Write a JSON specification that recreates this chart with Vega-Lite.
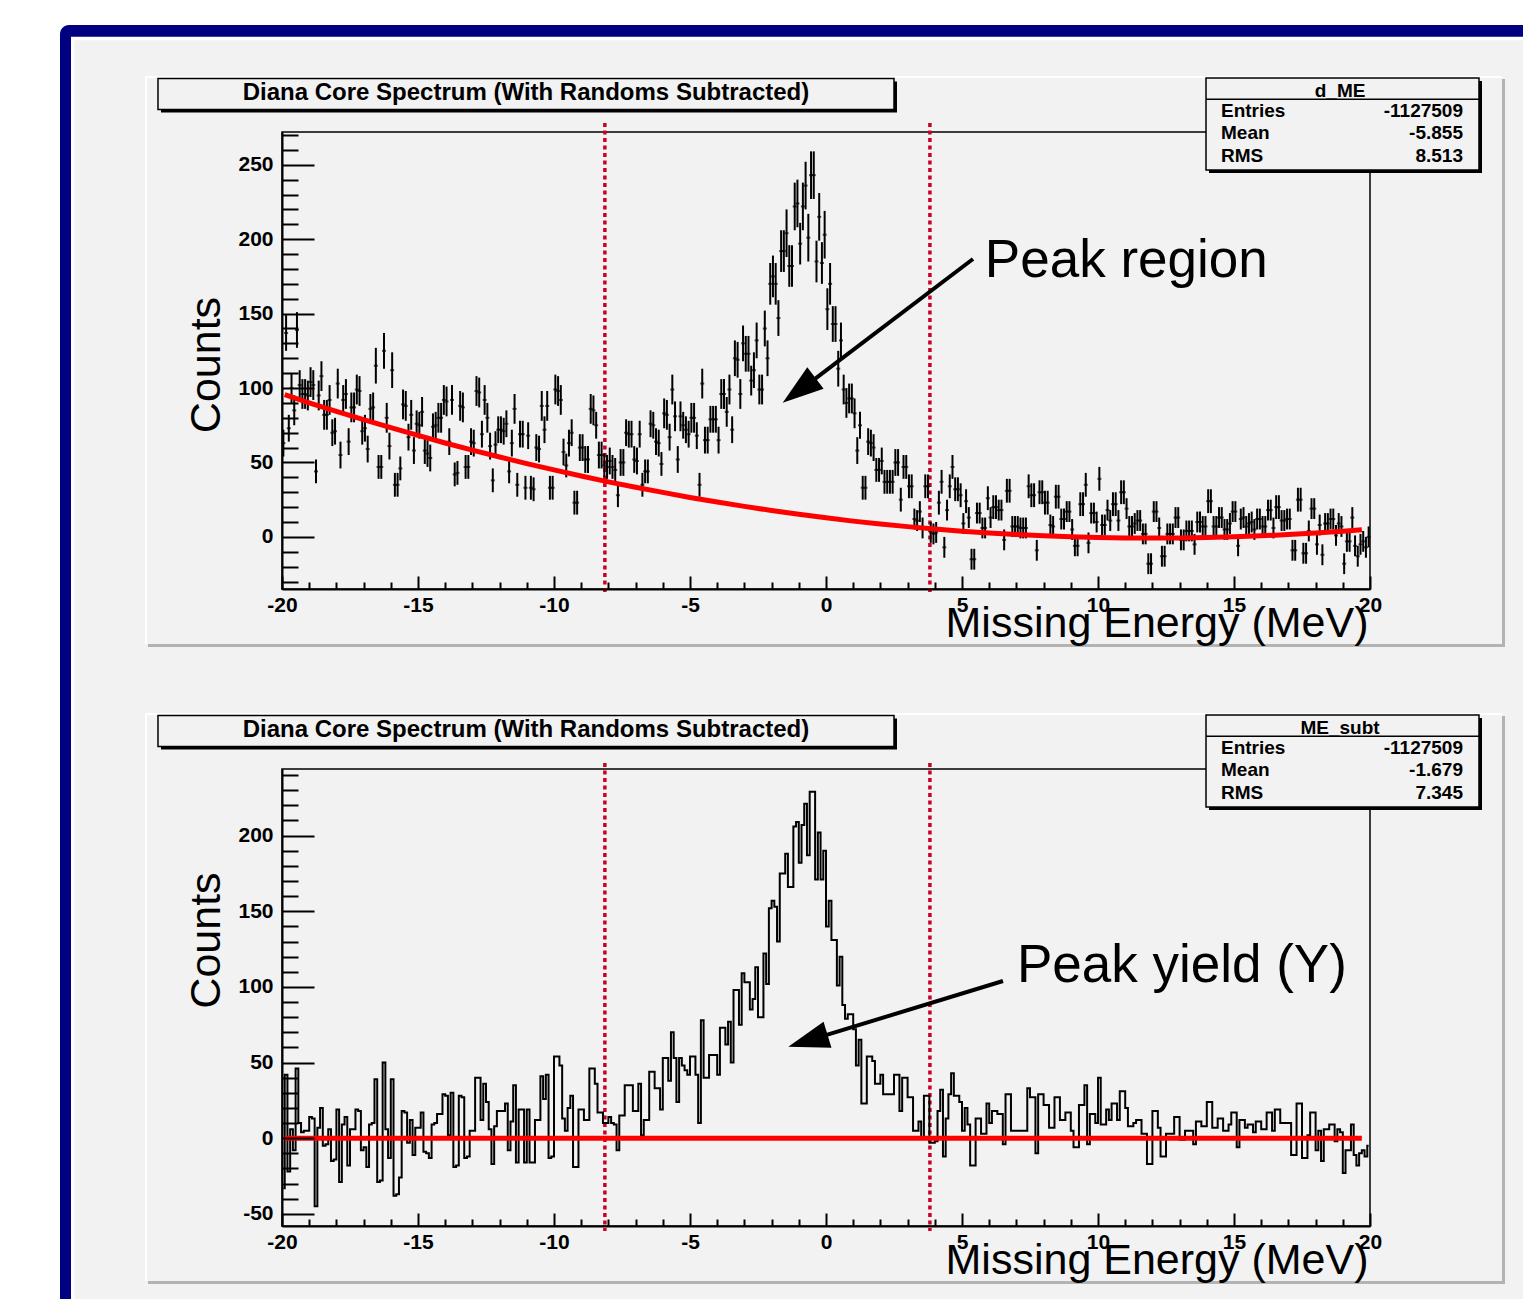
{
"$schema":"https://vega.github.io/schema/vega-lite/v6.json",
"padding":{"left":59,"top":24,"right":0,"bottom":0},
"background":"white",
"bounds":"flush",
"spacing":180,
"config":{"view":{"stroke":null},"font":"Liberation Sans",
"axis":{"domainColor":"black","domainWidth":2,"tickColor":"black","tickWidth":2,"labelFont":"Liberation Sans","labelFontWeight":"bold","labelFontSize":21,"labelColor":"black","titleFont":"Liberation Sans","titleFontWeight":"normal","titleFontSize":43,"titleColor":"black","grid":false,"labelFlush":false,"labelOverlap":false}},
"datasets":{
"h":[
{"x":-19.95,"c":63,"s":-33,"e":9},{"x":-19.85,"c":137,"s":42,"e":12},{"x":-19.75,"c":73,"s":-22,"e":9},{"x":-19.65,"c":100,"s":6,"e":10},{"x":-19.55,"c":85,"s":-8,"e":10},{"x":-19.45,"c":139,"s":46,"e":12},{"x":-19.35,"c":102,"s":10,"e":10},{"x":-19.25,"c":96,"s":4,"e":10},{"x":-19.15,"c":96,"s":5,"e":10},{"x":-19.05,"c":95,"s":5,"e":10},
{"x":-18.95,"c":104,"s":14,"e":10},{"x":-18.85,"c":102,"s":13,"e":10},{"x":-18.75,"c":44,"s":-45,"e":8},{"x":-18.65,"c":95,"s":7,"e":10},{"x":-18.55,"c":108,"s":20,"e":10},{"x":-18.45,"c":82,"s":-5,"e":10},{"x":-18.35,"c":82,"s":-4,"e":10},{"x":-18.25,"c":92,"s":6,"e":10},{"x":-18.15,"c":70,"s":-15,"e":9},{"x":-18.05,"c":71,"s":-14,"e":9},
{"x":-17.95,"c":103,"s":19,"e":10},{"x":-17.85,"c":55,"s":-29,"e":9},{"x":-17.75,"c":92,"s":9,"e":10},{"x":-17.65,"c":96,"s":14,"e":10},{"x":-17.55,"c":64,"s":-18,"e":9},{"x":-17.45,"c":87,"s":6,"e":10},{"x":-17.35,"c":87,"s":6,"e":10},{"x":-17.25,"c":99,"s":19,"e":10},{"x":-17.15,"c":98,"s":18,"e":10},{"x":-17.05,"c":71,"s":-8,"e":9},
{"x":-16.95,"c":73,"s":-6,"e":9},{"x":-16.85,"c":59,"s":-19,"e":9},{"x":-16.75,"c":86,"s":9,"e":10},{"x":-16.65,"c":87,"s":10,"e":10},{"x":-16.55,"c":115,"s":39,"e":12},{"x":-16.45,"c":47,"s":-29,"e":8},{"x":-16.35,"c":47,"s":-28,"e":8},{"x":-16.25,"c":125,"s":50,"e":12},{"x":-16.15,"c":80,"s":6,"e":10},{"x":-16.05,"c":61,"s":-13,"e":9},
{"x":-15.95,"c":112,"s":39,"e":12},{"x":-15.85,"c":35,"s":-38,"e":8},{"x":-15.75,"c":35,"s":-37,"e":8},{"x":-15.65,"c":46,"s":-26,"e":8},{"x":-15.55,"c":89,"s":18,"e":10},{"x":-15.45,"c":88,"s":17,"e":10},{"x":-15.35,"c":67,"s":-3,"e":9},{"x":-15.25,"c":82,"s":12,"e":10},{"x":-15.15,"c":58,"s":-11,"e":9},{"x":-15.05,"c":76,"s":7,"e":9},
{"x":-14.95,"c":75,"s":7,"e":9},{"x":-14.85,"c":84,"s":17,"e":10},{"x":-14.75,"c":58,"s":-9,"e":9},{"x":-14.65,"c":56,"s":-10,"e":9},{"x":-14.55,"c":53,"s":-13,"e":9},{"x":-14.45,"c":74,"s":9,"e":9},{"x":-14.35,"c":75,"s":10,"e":9},{"x":-14.25,"c":80,"s":16,"e":10},{"x":-14.15,"c":80,"s":16,"e":10},{"x":-14.05,"c":92,"s":29,"e":10},
{"x":-13.95,"c":91,"s":28,"e":10},{"x":-13.85,"c":64,"s":2,"e":9},{"x":-13.75,"c":92,"s":30,"e":10},{"x":-13.65,"c":42,"s":-19,"e":8},{"x":-13.55,"c":43,"s":-18,"e":8},{"x":-13.45,"c":88,"s":28,"e":10},{"x":-13.35,"c":87,"s":27,"e":10},{"x":-13.25,"c":47,"s":-13,"e":8},{"x":-13.15,"c":47,"s":-12,"e":8},{"x":-13.05,"c":64,"s":5,"e":9},
{"x":-12.95,"c":63,"s":5,"e":9},{"x":-12.85,"c":98,"s":40,"e":10},{"x":-12.75,"c":97,"s":40,"e":10},{"x":-12.65,"c":69,"s":12,"e":9},{"x":-12.55,"c":92,"s":36,"e":10},{"x":-12.45,"c":80,"s":24,"e":10},{"x":-12.35,"c":61,"s":6,"e":9},{"x":-12.25,"c":38,"s":-17,"e":8},{"x":-12.15,"c":62,"s":8,"e":9},{"x":-12.05,"c":72,"s":18,"e":9},
{"x":-11.95,"c":72,"s":18,"e":9},{"x":-11.85,"c":71,"s":18,"e":9},{"x":-11.75,"c":76,"s":23,"e":9},{"x":-11.65,"c":44,"s":-8,"e":8},{"x":-11.55,"c":63,"s":11,"e":9},{"x":-11.45,"c":86,"s":35,"e":10},{"x":-11.35,"c":35,"s":-16,"e":8},{"x":-11.25,"c":69,"s":19,"e":9},{"x":-11.15,"c":69,"s":19,"e":9},{"x":-11.05,"c":33,"s":-16,"e":8},
{"x":-10.95,"c":68,"s":19,"e":9},{"x":-10.85,"c":33,"s":-16,"e":8},{"x":-10.75,"c":32,"s":-16,"e":8},{"x":-10.65,"c":60,"s":12,"e":9},{"x":-10.55,"c":59,"s":12,"e":9},{"x":-10.45,"c":88,"s":41,"e":10},{"x":-10.35,"c":72,"s":26,"e":9},{"x":-10.25,"c":88,"s":42,"e":10},{"x":-10.15,"c":33,"s":-13,"e":8},{"x":-10.05,"c":33,"s":-12,"e":8},
{"x":-9.95,"c":99,"s":54,"e":10},{"x":-9.85,"c":98,"s":54,"e":10},{"x":-9.75,"c":92,"s":48,"e":10},{"x":-9.65,"c":57,"s":13,"e":9},{"x":-9.55,"c":48,"s":5,"e":8},{"x":-9.45,"c":63,"s":20,"e":9},{"x":-9.35,"c":70,"s":28,"e":9},{"x":-9.25,"c":23,"s":-19,"e":8},{"x":-9.15,"c":23,"s":-19,"e":8},{"x":-9.05,"c":60,"s":19,"e":9},
{"x":-8.95,"c":60,"s":19,"e":9},{"x":-8.85,"c":52,"s":12,"e":9},{"x":-8.75,"c":52,"s":12,"e":9},{"x":-8.65,"c":86,"s":46,"e":10},{"x":-8.55,"c":85,"s":46,"e":10},{"x":-8.45,"c":75,"s":36,"e":9},{"x":-8.35,"c":55,"s":17,"e":9},{"x":-8.25,"c":55,"s":17,"e":9},{"x":-8.15,"c":48,"s":10,"e":8},{"x":-8.05,"c":47,"s":10,"e":8},
{"x":-7.95,"c":51,"s":14,"e":9},{"x":-7.85,"c":47,"s":10,"e":8},{"x":-7.75,"c":45,"s":9,"e":8},{"x":-7.65,"c":28,"s":-8,"e":8},{"x":-7.55,"c":50,"s":15,"e":9},{"x":-7.45,"c":50,"s":15,"e":9},{"x":-7.35,"c":70,"s":35,"e":9},{"x":-7.25,"c":69,"s":35,"e":9},{"x":-7.15,"c":69,"s":35,"e":9},{"x":-7.05,"c":52,"s":18,"e":9},
{"x":-6.95,"c":51,"s":18,"e":9},{"x":-6.85,"c":69,"s":36,"e":9},{"x":-6.75,"c":35,"s":2,"e":8},{"x":-6.65,"c":44,"s":12,"e":8},{"x":-6.55,"c":44,"s":12,"e":8},{"x":-6.45,"c":76,"s":44,"e":9},{"x":-6.35,"c":75,"s":44,"e":9},{"x":-6.25,"c":64,"s":33,"e":9},{"x":-6.15,"c":63,"s":33,"e":9},{"x":-6.05,"c":49,"s":19,"e":8},
{"x":-5.95,"c":83,"s":53,"e":10},{"x":-5.85,"c":82,"s":53,"e":10},{"x":-5.75,"c":67,"s":38,"e":9},{"x":-5.65,"c":99,"s":70,"e":10},{"x":-5.55,"c":81,"s":53,"e":10},{"x":-5.45,"c":52,"s":24,"e":9},{"x":-5.35,"c":81,"s":53,"e":10},{"x":-5.25,"c":75,"s":48,"e":9},{"x":-5.15,"c":72,"s":45,"e":9},{"x":-5.05,"c":69,"s":42,"e":9},
{"x":-4.95,"c":80,"s":54,"e":10},{"x":-4.85,"c":80,"s":54,"e":10},{"x":-4.75,"c":68,"s":42,"e":9},{"x":-4.65,"c":35,"s":10,"e":8},{"x":-4.55,"c":103,"s":78,"e":10},{"x":-4.45,"c":65,"s":40,"e":9},{"x":-4.35,"c":65,"s":40,"e":9},{"x":-4.25,"c":79,"s":55,"e":9},{"x":-4.15,"c":79,"s":55,"e":9},{"x":-4.05,"c":79,"s":55,"e":9},
{"x":-3.95,"c":65,"s":42,"e":9},{"x":-3.85,"c":96,"s":73,"e":10},{"x":-3.75,"c":96,"s":73,"e":10},{"x":-3.65,"c":84,"s":62,"e":10},{"x":-3.55,"c":99,"s":77,"e":10},{"x":-3.45,"c":72,"s":50,"e":9},{"x":-3.35,"c":120,"s":98,"e":12},{"x":-3.25,"c":119,"s":98,"e":12},{"x":-3.15,"c":96,"s":75,"e":10},{"x":-3.05,"c":130,"s":109,"e":12},
{"x":-2.95,"c":123,"s":103,"e":12},{"x":-2.85,"c":123,"s":103,"e":12},{"x":-2.75,"c":105,"s":85,"e":10},{"x":-2.65,"c":112,"s":92,"e":12},{"x":-2.55,"c":132,"s":113,"e":12},{"x":-2.45,"c":99,"s":80,"e":10},{"x":-2.35,"c":99,"s":80,"e":10},{"x":-2.25,"c":140,"s":122,"e":12},{"x":-2.15,"c":120,"s":102,"e":12},{"x":-2.05,"c":170,"s":152,"e":14},
{"x":-1.95,"c":175,"s":157,"e":14},{"x":-1.85,"c":170,"s":153,"e":14},{"x":-1.75,"c":147,"s":130,"e":12},{"x":-1.65,"c":192,"s":175,"e":14},{"x":-1.55,"c":192,"s":175,"e":14},{"x":-1.45,"c":204,"s":188,"e":16},{"x":-1.35,"c":182,"s":166,"e":14},{"x":-1.25,"c":182,"s":166,"e":14},{"x":-1.15,"c":222,"s":206,"e":16},{"x":-1.05,"c":224,"s":209,"e":16},
{"x":-0.95,"c":197,"s":182,"e":14},{"x":-0.85,"c":222,"s":207,"e":16},{"x":-0.75,"c":236,"s":221,"e":16},{"x":-0.65,"c":201,"s":187,"e":16},{"x":-0.55,"c":243,"s":229,"e":16},{"x":-0.45,"c":243,"s":229,"e":16},{"x":-0.35,"c":185,"s":171,"e":14},{"x":-0.25,"c":215,"s":202,"e":16},{"x":-0.15,"c":184,"s":171,"e":14},{"x":-0.05,"c":203,"s":190,"e":16},
{"x":0.05,"c":153,"s":140,"e":14},{"x":0.15,"c":170,"s":157,"e":14},{"x":0.25,"c":143,"s":131,"e":12},{"x":0.35,"c":143,"s":131,"e":12},{"x":0.45,"c":113,"s":101,"e":12},{"x":0.55,"c":132,"s":120,"e":12},{"x":0.65,"c":99,"s":88,"e":10},{"x":0.75,"c":90,"s":79,"e":10},{"x":0.85,"c":93,"s":82,"e":10},{"x":0.95,"c":93,"s":82,"e":10},
{"x":1.05,"c":83,"s":72,"e":10},{"x":1.15,"c":58,"s":48,"e":9},{"x":1.25,"c":75,"s":65,"e":9},{"x":1.35,"c":33,"s":23,"e":8},{"x":1.45,"c":33,"s":23,"e":8},{"x":1.55,"c":64,"s":54,"e":9},{"x":1.65,"c":63,"s":54,"e":9},{"x":1.75,"c":60,"s":51,"e":9},{"x":1.85,"c":45,"s":36,"e":8},{"x":1.95,"c":45,"s":36,"e":8},
{"x":2.05,"c":51,"s":42,"e":9},{"x":2.15,"c":37,"s":29,"e":8},{"x":2.25,"c":37,"s":29,"e":8},{"x":2.35,"c":37,"s":29,"e":8},{"x":2.45,"c":37,"s":29,"e":8},{"x":2.55,"c":50,"s":42,"e":9},{"x":2.65,"c":50,"s":42,"e":9},{"x":2.75,"c":25,"s":18,"e":8},{"x":2.85,"c":47,"s":40,"e":8},{"x":2.95,"c":47,"s":40,"e":8},
{"x":3.05,"c":34,"s":27,"e":8},{"x":3.15,"c":34,"s":27,"e":8},{"x":3.25,"c":12,"s":5,"e":7},{"x":3.35,"c":11,"s":5,"e":7},{"x":3.45,"c":17,"s":11,"e":7},{"x":3.55,"c":6,"s":0,"e":7},{"x":3.65,"c":34,"s":28,"e":8},{"x":3.75,"c":34,"s":28,"e":8},{"x":3.85,"c":3,"s":-3,"e":7},{"x":3.95,"c":2,"s":-3,"e":7},
{"x":4.05,"c":3,"s":-2,"e":7},{"x":4.15,"c":23,"s":18,"e":8},{"x":4.25,"c":37,"s":32,"e":8},{"x":4.35,"c":-7,"s":-12,"e":7},{"x":4.45,"c":18,"s":13,"e":7},{"x":4.55,"c":34,"s":29,"e":8},{"x":4.65,"c":47,"s":43,"e":8},{"x":4.75,"c":32,"s":28,"e":8},{"x":4.85,"c":32,"s":28,"e":8},{"x":4.95,"c":28,"s":24,"e":8},
{"x":5.05,"c":9,"s":5,"e":7},{"x":5.15,"c":24,"s":20,"e":8},{"x":5.25,"c":13,"s":9,"e":7},{"x":5.35,"c":-15,"s":-18,"e":7},{"x":5.45,"c":-15,"s":-18,"e":7},{"x":5.55,"c":16,"s":13,"e":7},{"x":5.65,"c":16,"s":13,"e":7},{"x":5.75,"c":6,"s":3,"e":7},{"x":5.85,"c":6,"s":3,"e":7},{"x":5.95,"c":26,"s":23,"e":8},
{"x":6.05,"c":13,"s":10,"e":7},{"x":6.15,"c":20,"s":18,"e":8},{"x":6.25,"c":20,"s":18,"e":8},{"x":6.35,"c":18,"s":16,"e":7},{"x":6.45,"c":18,"s":16,"e":7},{"x":6.55,"c":-2,"s":-4,"e":7},{"x":6.65,"c":31,"s":29,"e":8},{"x":6.75,"c":31,"s":29,"e":8},{"x":6.85,"c":7,"s":5,"e":7},{"x":6.95,"c":7,"s":5,"e":7},
{"x":7.05,"c":7,"s":5,"e":7},{"x":7.15,"c":6,"s":5,"e":7},{"x":7.25,"c":6,"s":5,"e":7},{"x":7.35,"c":6,"s":5,"e":7},{"x":7.45,"c":34,"s":33,"e":8},{"x":7.55,"c":28,"s":27,"e":8},{"x":7.65,"c":28,"s":27,"e":8},{"x":7.75,"c":-9,"s":-10,"e":7},{"x":7.85,"c":30,"s":29,"e":8},{"x":7.95,"c":30,"s":29,"e":8},
{"x":8.05,"c":23,"s":22,"e":8},{"x":8.15,"c":23,"s":22,"e":8},{"x":8.25,"c":8,"s":7,"e":7},{"x":8.35,"c":7,"s":7,"e":7},{"x":8.45,"c":27,"s":27,"e":8},{"x":8.55,"c":27,"s":27,"e":8},{"x":8.65,"c":12,"s":12,"e":7},{"x":8.75,"c":12,"s":12,"e":7},{"x":8.85,"c":17,"s":17,"e":7},{"x":8.95,"c":17,"s":17,"e":7},
{"x":9.05,"c":5,"s":5,"e":7},{"x":9.15,"c":-6,"s":-6,"e":7},{"x":9.25,"c":-6,"s":-6,"e":7},{"x":9.35,"c":22,"s":22,"e":8},{"x":9.45,"c":22,"s":22,"e":8},{"x":9.55,"c":35,"s":35,"e":8},{"x":9.65,"c":-4,"s":-4,"e":7},{"x":9.75,"c":16,"s":16,"e":7},{"x":9.85,"c":16,"s":16,"e":7},{"x":9.95,"c":10,"s":10,"e":7},
{"x":10.05,"c":39,"s":40,"e":8},{"x":10.15,"c":8,"s":9,"e":7},{"x":10.25,"c":8,"s":9,"e":7},{"x":10.35,"c":18,"s":19,"e":7},{"x":10.45,"c":11,"s":12,"e":7},{"x":10.55,"c":22,"s":23,"e":8},{"x":10.65,"c":22,"s":23,"e":8},{"x":10.75,"c":11,"s":12,"e":7},{"x":10.85,"c":30,"s":31,"e":8},{"x":10.95,"c":30,"s":31,"e":8},
{"x":11.05,"c":19,"s":20,"e":7},{"x":11.15,"c":7,"s":8,"e":7},{"x":11.25,"c":7,"s":8,"e":7},{"x":11.35,"c":9,"s":10,"e":7},{"x":11.45,"c":11,"s":12,"e":7},{"x":11.55,"c":11,"s":12,"e":7},{"x":11.65,"c":2,"s":3,"e":7},{"x":11.75,"c":2,"s":3,"e":7},{"x":11.85,"c":-18,"s":-17,"e":7},{"x":11.95,"c":-18,"s":-17,"e":7},
{"x":12.05,"c":17,"s":18,"e":7},{"x":12.15,"c":17,"s":18,"e":7},{"x":12.25,"c":6,"s":7,"e":7},{"x":12.35,"c":-13,"s":-12,"e":7},{"x":12.45,"c":-13,"s":-12,"e":7},{"x":12.55,"c":2,"s":3,"e":7},{"x":12.65,"c":2,"s":3,"e":7},{"x":12.75,"c":2,"s":3,"e":7},{"x":12.85,"c":13,"s":14,"e":7},{"x":12.95,"c":13,"s":14,"e":7},
{"x":13.05,"c":-2,"s":-1,"e":7},{"x":13.15,"c":-2,"s":-1,"e":7},{"x":13.25,"c":4,"s":5,"e":7},{"x":13.35,"c":4,"s":5,"e":7},{"x":13.45,"c":4,"s":5,"e":7},{"x":13.55,"c":-5,"s":-4,"e":7},{"x":13.65,"c":10,"s":11,"e":7},{"x":13.75,"c":10,"s":11,"e":7},{"x":13.85,"c":7,"s":8,"e":7},{"x":13.95,"c":7,"s":8,"e":7},
{"x":14.05,"c":24,"s":24,"e":8},{"x":14.15,"c":24,"s":24,"e":8},{"x":14.25,"c":7,"s":7,"e":7},{"x":14.35,"c":7,"s":7,"e":7},{"x":14.45,"c":13,"s":13,"e":7},{"x":14.55,"c":13,"s":13,"e":7},{"x":14.65,"c":5,"s":5,"e":7},{"x":14.75,"c":5,"s":5,"e":7},{"x":14.85,"c":9,"s":9,"e":7},{"x":14.95,"c":17,"s":17,"e":7},
{"x":15.05,"c":17,"s":17,"e":7},{"x":15.15,"c":-6,"s":-6,"e":7},{"x":15.25,"c":12,"s":12,"e":7},{"x":15.35,"c":13,"s":12,"e":7},{"x":15.45,"c":7,"s":7,"e":7},{"x":15.55,"c":9,"s":9,"e":7},{"x":15.65,"c":10,"s":9,"e":7},{"x":15.75,"c":5,"s":4,"e":7},{"x":15.85,"c":12,"s":11,"e":7},{"x":15.95,"c":12,"s":11,"e":7},
{"x":16.05,"c":7,"s":6,"e":7},{"x":16.15,"c":7,"s":6,"e":7},{"x":16.25,"c":18,"s":17,"e":7},{"x":16.35,"c":18,"s":17,"e":7},{"x":16.45,"c":6,"s":5,"e":7},{"x":16.55,"c":20,"s":19,"e":8},{"x":16.65,"c":20,"s":19,"e":8},{"x":16.75,"c":11,"s":10,"e":7},{"x":16.85,"c":11,"s":10,"e":7},{"x":16.95,"c":12,"s":10,"e":7},
{"x":17.05,"c":12,"s":10,"e":7},{"x":17.15,"c":-9,"s":-11,"e":7},{"x":17.25,"c":-9,"s":-11,"e":7},{"x":17.35,"c":25,"s":23,"e":8},{"x":17.45,"c":25,"s":23,"e":8},{"x":17.55,"c":-11,"s":-13,"e":7},{"x":17.65,"c":-11,"s":-13,"e":7},{"x":17.75,"c":4,"s":2,"e":7},{"x":17.85,"c":19,"s":17,"e":7},{"x":17.95,"c":19,"s":17,"e":7},
{"x":18.05,"c":-5,"s":-8,"e":7},{"x":18.15,"c":8,"s":5,"e":7},{"x":18.25,"c":-12,"s":-15,"e":7},{"x":18.35,"c":9,"s":6,"e":7},{"x":18.45,"c":9,"s":6,"e":7},{"x":18.55,"c":12,"s":9,"e":7},{"x":18.65,"c":12,"s":9,"e":7},{"x":18.75,"c":1,"s":-2,"e":7},{"x":18.85,"c":9,"s":6,"e":7},{"x":18.95,"c":7,"s":4,"e":7},
{"x":19.05,"c":-18,"s":-23,"e":7},{"x":19.15,"c":-3,"s":-8,"e":7},{"x":19.25,"c":-3,"s":-8,"e":7},{"x":19.35,"c":13,"s":9,"e":7},{"x":19.45,"c":-6,"s":-11,"e":7},{"x":19.55,"c":-13,"s":-18,"e":7},{"x":19.65,"c":-5,"s":-10,"e":7},{"x":19.75,"c":-3,"s":-8,"e":7},{"x":19.85,"c":-7,"s":-12,"e":7},{"x":19.95,"c":0,"s":-5,"e":7}
],
"fit":[
{"x":-19.9,"f":95.5},{"x":-19,"f":90.1},{"x":-18,"f":84.3},{"x":-17,"f":78.8},{"x":-16,"f":73.4},{"x":-15,"f":68.2},{"x":-14,"f":63.1},{"x":-13,"f":58.3},{"x":-12,"f":53.7},{"x":-11,"f":49.2},{"x":-10,"f":45.0},{"x":-9,"f":40.9},{"x":-8,"f":37.0},{"x":-7,"f":33.4},{"x":-6,"f":29.9},{"x":-5,"f":26.5},{"x":-4,"f":23.4},{"x":-3,"f":20.5},{"x":-2,"f":17.7},{"x":-1,"f":15.2},{"x":0,"f":12.8},{"x":1,"f":10.6},{"x":2,"f":8.7},{"x":3,"f":6.9},{"x":4,"f":5.3},{"x":5,"f":3.8},{"x":6,"f":2.6},{"x":7,"f":1.6},{"x":8,"f":0.7},{"x":9,"f":0.1},{"x":10,"f":-0.4},{"x":11,"f":-0.7},{"x":12,"f":-0.8},{"x":13,"f":-0.7},{"x":14,"f":-0.4},{"x":15,"f":0.1},{"x":16,"f":0.7},{"x":17,"f":1.6},{"x":18,"f":2.6},{"x":19,"f":3.8},{"x":19.7,"f":4.8}
]
},
"vconcat":[
{
"width":1088,"height":457,
"resolve":{"axis":{"x":"independent","y":"independent"}},
"layer":[
{"data":{"values":[{}]},"mark":{"type":"rect","fill":"#000080","cornerRadiusTopLeft":9},"encoding":{"x":{"datum":-28.162,"type":"quantitative","axis":null},"x2":{"datum":25.66},"y":{"datum":343.88,"type":"quantitative","axis":null},"y2":{"datum":-512.6}}},
{"data":{"values":[{}]},"mark":{"type":"rect","fill":"white"},"encoding":{"x":{"datum":-27.757,"type":"quantitative","axis":null},"x2":{"datum":25.66},"y":{"datum":336.02,"type":"quantitative","axis":null},"y2":{"datum":-512.6}}},
{"data":{"values":[{}]},"mark":{"type":"rect","fill":"#f2f2f2"},"encoding":{"x":{"datum":-27.636,"type":"quantitative","axis":null},"x2":{"datum":25.66},"y":{"datum":333.6,"type":"quantitative","axis":null},"y2":{"datum":-512.6}}},
{"data":{"values":[{}]},"mark":{"type":"rect","fill":"white"},"encoding":{"x":{"datum":-25.037,"type":"quantitative","axis":null},"x2":{"datum":-24.963},"y":{"datum":309.62,"type":"quantitative","axis":null},"y2":{"datum":-71.94}}},
{"data":{"values":[{}]},"mark":{"type":"rect","fill":"white"},"encoding":{"x":{"datum":-25.037,"type":"quantitative","axis":null},"x2":{"datum":24.853},"y":{"datum":309.62,"type":"quantitative","axis":null},"y2":{"datum":308.28}}},
{"data":{"values":[{}]},"mark":{"type":"rect","fill":"#b3b3b3"},"encoding":{"x":{"datum":24.853,"type":"quantitative","axis":null},"x2":{"datum":24.963},"y":{"datum":307.6,"type":"quantitative","axis":null},"y2":{"datum":-73.96}}},
{"data":{"values":[{}]},"mark":{"type":"rect","fill":"#b3b3b3"},"encoding":{"x":{"datum":-24.926,"type":"quantitative","axis":null},"x2":{"datum":24.963},"y":{"datum":-71.94,"type":"quantitative","axis":null},"y2":{"datum":-73.96}}},
{"data":{"values":[{}]},"mark":{"type":"rect","fill":"none","stroke":"black","strokeWidth":1.5},"encoding":{"x":{"datum":-20,"type":"quantitative","axis":null},"x2":{"datum":20},"y":{"datum":-35,"type":"quantitative","axis":null},"y2":{"datum":272}}},
{"data":{"values":[{}]},"mark":{"type":"rule","color":"#cc0022","strokeWidth":3.5,"strokeDash":[4,3.5]},"encoding":{"x":{"datum":-8.13,"type":"quantitative","axis":null},"y":{"datum":278,"type":"quantitative","axis":null},"y2":{"datum":-38.4}}},
{"data":{"values":[{}]},"mark":{"type":"rule","color":"#cc0022","strokeWidth":3.5,"strokeDash":[4,3.5]},"encoding":{"x":{"datum":3.82,"type":"quantitative","axis":null},"y":{"datum":278,"type":"quantitative","axis":null},"y2":{"datum":-38.4}}},
{"data":{"name":"h"},"mark":{"type":"errorbar","ticks":false,"color":"black","thickness":2},"encoding":{"x":{"field":"x","type":"quantitative","axis":null},"y":{"field":"c","type":"quantitative","axis":null},"yError":{"field":"e"}}},
{"data":{"name":"h"},"mark":{"type":"tick","orient":"horizontal","size":4,"thickness":2,"color":"black"},"encoding":{
 "x":{"field":"x","type":"quantitative","scale":{"domain":[-20,20],"nice":false,"zero":false},
  "axis":{"orient":"bottom","zindex":2,"values":[-20,-15,-10,-5,0,5,10,15,20],"labelExpr":"'' + datum.value","tickSize":-13,"labelPadding":18,"title":"Missing Energy (MeV)","titleX":1086,"titleY":47.5,"titleAlign":"right","titleBaseline":"alphabetic","titleAngle":0}},
 "y":{"field":"c","type":"quantitative","scale":{"domain":[-35,272],"nice":false,"zero":false},
  "axis":{"orient":"left","zindex":2,"values":[0,50,100,150,200,250],"labelExpr":"'' + datum.value","tickSize":-32,"labelPadding":41,"title":"Counts","titleX":-63,"titleY":232.5,"titleAlign":"center","titleBaseline":"alphabetic","titleAngle":-90}}}},
{"data":{"name":"fit"},"mark":{"type":"line","color":"#ff0000","strokeWidth":5},"encoding":{
 "x":{"field":"x","type":"quantitative","axis":{"orient":"bottom","zindex":2,"values":[-19,-18,-17,-16,-14,-13,-12,-11,-9,-8,-7,-6,-4,-3,-2,-1,1,2,3,4,6,7,8,9,11,12,13,14,16,17,18,19],"tickSize":-7,"labels":false,"domain":false,"title":null}},
 "y":{"field":"f","type":"quantitative","axis":{"orient":"left","zindex":2,"values":[-30,-20,-10,10,20,30,40,60,70,80,90,110,120,130,140,160,170,180,190,210,220,230,240,260,270],"tickSize":-16,"labels":false,"domain":false,"title":null}}}},
{"data":{"values":[{}]},"mark":{"type":"rect","fill":"black"},"encoding":{"x":{"datum":-24.449,"type":"quantitative","axis":null},"x2":{"datum":2.61},"y":{"datum":305.92,"type":"quantitative","axis":null},"y2":{"datum":285.1}}},
{"data":{"values":[{}]},"mark":{"type":"rect","fill":"#f2f2f2","stroke":"black","strokeWidth":1.5},"encoding":{"x":{"datum":-24.559,"type":"quantitative","axis":null},"x2":{"datum":2.5},"y":{"datum":307.94,"type":"quantitative","axis":null},"y2":{"datum":287.11}}},
{"data":{"values":[{}]},"mark":{"type":"text","text":"Diana Core Spectrum (With Randoms Subtracted)","fontSize":24,"fontWeight":"bold","align":"center","baseline":"alphabetic","color":"black"},"encoding":{"x":{"datum":-11.03,"type":"quantitative","axis":null},"y":{"datum":293.7,"type":"quantitative","axis":null}}},
{"data":{"values":[{}]},"mark":{"type":"rect","fill":"black"},"encoding":{"x":{"datum":14.081,"type":"quantitative","axis":null},"x2":{"datum":24.118},"y":{"datum":306.26,"type":"quantitative","axis":null},"y2":{"datum":244.46}}},
{"data":{"values":[{}]},"mark":{"type":"rect","fill":"#f2f2f2","stroke":"black","strokeWidth":1.5},"encoding":{"x":{"datum":13.971,"type":"quantitative","axis":null},"x2":{"datum":24.007},"y":{"datum":308.28,"type":"quantitative","axis":null},"y2":{"datum":246.47}}},
{"data":{"values":[{}]},"mark":{"type":"rule","color":"black","strokeWidth":1.5},"encoding":{"x":{"datum":13.971,"type":"quantitative","axis":null},"x2":{"datum":24.007},"y":{"datum":293.97,"type":"quantitative","axis":null}}},
{"data":{"values":[{}]},"mark":{"type":"text","text":"d_ME","fontSize":19,"fontWeight":"bold","align":"center","baseline":"alphabetic","color":"black"},"encoding":{"x":{"datum":18.9,"type":"quantitative","axis":null},"y":{"datum":295.71,"type":"quantitative","axis":null}}},
{"data":{"values":[{}]},"mark":{"type":"text","text":["Entries","Mean","RMS"],"lineHeight":22.7,"fontSize":19,"fontWeight":"bold","align":"left","baseline":"alphabetic","color":"black"},"encoding":{"x":{"datum":14.522,"type":"quantitative","axis":null},"y":{"datum":282.28,"type":"quantitative","axis":null}}},
{"data":{"values":[{}]},"mark":{"type":"text","text":["-1127509","-5.855","8.513"],"lineHeight":22.7,"fontSize":19,"fontWeight":"bold","align":"right","baseline":"alphabetic","color":"black"},"encoding":{"x":{"datum":23.419,"type":"quantitative","axis":null},"y":{"datum":282.28,"type":"quantitative","axis":null}}},
{"data":{"values":[{}]},"mark":{"type":"text","text":"Peak region","fontSize":53,"align":"left","baseline":"alphabetic","color":"black"},"encoding":{"x":{"datum":5.84,"type":"quantitative","axis":null},"y":{"datum":174.6,"type":"quantitative","axis":null}}},
{"data":{"values":[{}]},"mark":{"type":"rule","color":"black","strokeWidth":4},"encoding":{"x":{"datum":5.404,"type":"quantitative","axis":null},"x2":{"datum":-0.551},"y":{"datum":186.7,"type":"quantitative","axis":null},"y2":{"datum":104.1}}},
{"data":{"values":[{}]},"mark":{"type":"point","shape":"M0,0L-0.66,2L0.66,2Z","size":1681,"angle":233,"filled":true,"color":"black","opacity":1,"strokeWidth":0},"encoding":{"x":{"datum":-1.592,"type":"quantitative","axis":null},"y":{"datum":90.2,"type":"quantitative","axis":null}}}
]
},
{
"width":1088,"height":457,
"resolve":{"axis":{"x":"independent","y":"independent"}},
"layer":[
{"data":{"values":[{}]},"mark":{"type":"rect","fill":"white"},"encoding":{"x":{"datum":-25.037,"type":"quantitative","axis":null},"x2":{"datum":-24.963},"y":{"datum":281.01,"type":"quantitative","axis":null},"y2":{"datum":-94.36}}},
{"data":{"values":[{}]},"mark":{"type":"rect","fill":"white"},"encoding":{"x":{"datum":-25.037,"type":"quantitative","axis":null},"x2":{"datum":24.853},"y":{"datum":281.01,"type":"quantitative","axis":null},"y2":{"datum":279.69}}},
{"data":{"values":[{}]},"mark":{"type":"rect","fill":"#b3b3b3"},"encoding":{"x":{"datum":24.853,"type":"quantitative","axis":null},"x2":{"datum":24.963},"y":{"datum":279.02,"type":"quantitative","axis":null},"y2":{"datum":-96.34}}},
{"data":{"values":[{}]},"mark":{"type":"rect","fill":"#b3b3b3"},"encoding":{"x":{"datum":-24.926,"type":"quantitative","axis":null},"x2":{"datum":24.963},"y":{"datum":-94.36,"type":"quantitative","axis":null},"y2":{"datum":-96.34}}},
{"data":{"values":[{}]},"mark":{"type":"rect","fill":"none","stroke":"black","strokeWidth":1.5},"encoding":{"x":{"datum":-20,"type":"quantitative","axis":null},"x2":{"datum":20},"y":{"datum":-58,"type":"quantitative","axis":null},"y2":{"datum":244}}},
{"data":{"values":[{}]},"mark":{"type":"rule","color":"#cc0022","strokeWidth":3.5,"strokeDash":[4,3.5]},"encoding":{"x":{"datum":-8.13,"type":"quantitative","axis":null},"y":{"datum":248,"type":"quantitative","axis":null},"y2":{"datum":-61.3}}},
{"data":{"values":[{}]},"mark":{"type":"rule","color":"#cc0022","strokeWidth":3.5,"strokeDash":[4,3.5]},"encoding":{"x":{"datum":3.82,"type":"quantitative","axis":null},"y":{"datum":248,"type":"quantitative","axis":null},"y2":{"datum":-61.3}}},
{"data":{"name":"h"},"mark":{"type":"line","interpolate":"step","color":"black","strokeWidth":2},"encoding":{
 "x":{"field":"x","type":"quantitative","scale":{"domain":[-20,20],"nice":false,"zero":false},
  "axis":{"orient":"bottom","zindex":2,"values":[-20,-15,-10,-5,0,5,10,15,20],"labelExpr":"'' + datum.value","tickSize":-13,"labelPadding":18,"title":"Missing Energy (MeV)","titleX":1086,"titleY":47.5,"titleAlign":"right","titleBaseline":"alphabetic","titleAngle":0}},
 "y":{"field":"s","type":"quantitative","scale":{"domain":[-58,244],"nice":false,"zero":false},
  "axis":{"orient":"left","zindex":2,"values":[-50,0,50,100,150,200],"labelExpr":"'' + datum.value","tickSize":-32,"labelPadding":41,"title":"Counts","titleX":-63,"titleY":171,"titleAlign":"center","titleBaseline":"alphabetic","titleAngle":-90}}}},
{"data":{"name":"h"},"mark":{"type":"point","opacity":0},"encoding":{
 "x":{"field":"x","type":"quantitative","axis":{"orient":"bottom","zindex":2,"values":[-19,-18,-17,-16,-14,-13,-12,-11,-9,-8,-7,-6,-4,-3,-2,-1,1,2,3,4,6,7,8,9,11,12,13,14,16,17,18,19],"tickSize":-7,"labels":false,"domain":false,"title":null}},
 "y":{"field":"s","type":"quantitative","axis":{"orient":"left","zindex":2,"values":[-40,-30,-20,-10,10,20,30,40,60,70,80,90,110,120,130,140,160,170,180,190,210,220,230,240],"tickSize":-16,"labels":false,"domain":false,"title":null}}}},
{"data":{"values":[{}]},"mark":{"type":"rule","color":"#ff0000","strokeWidth":5},"encoding":{"x":{"datum":-19.9,"type":"quantitative","axis":null},"x2":{"datum":19.7},"y":{"datum":0,"type":"quantitative","axis":null}}},
{"data":{"values":[{}]},"mark":{"type":"rect","fill":"black"},"encoding":{"x":{"datum":-24.449,"type":"quantitative","axis":null},"x2":{"datum":2.61},"y":{"datum":277.37,"type":"quantitative","axis":null},"y2":{"datum":256.89}}},
{"data":{"values":[{}]},"mark":{"type":"rect","fill":"#f2f2f2","stroke":"black","strokeWidth":1.5},"encoding":{"x":{"datum":-24.559,"type":"quantitative","axis":null},"x2":{"datum":2.5},"y":{"datum":279.36,"type":"quantitative","axis":null},"y2":{"datum":258.87}}},
{"data":{"values":[{}]},"mark":{"type":"text","text":"Diana Core Spectrum (With Randoms Subtracted)","fontSize":24,"fontWeight":"bold","align":"center","baseline":"alphabetic","color":"black"},"encoding":{"x":{"datum":-11.03,"type":"quantitative","axis":null},"y":{"datum":265.35,"type":"quantitative","axis":null}}},
{"data":{"values":[{}]},"mark":{"type":"rect","fill":"black"},"encoding":{"x":{"datum":14.081,"type":"quantitative","axis":null},"x2":{"datum":24.118},"y":{"datum":277.7,"type":"quantitative","axis":null},"y2":{"datum":216.91}}},
{"data":{"values":[{}]},"mark":{"type":"rect","fill":"#f2f2f2","stroke":"black","strokeWidth":1.5},"encoding":{"x":{"datum":13.971,"type":"quantitative","axis":null},"x2":{"datum":24.007},"y":{"datum":279.69,"type":"quantitative","axis":null},"y2":{"datum":218.89}}},
{"data":{"values":[{}]},"mark":{"type":"rule","color":"black","strokeWidth":1.5},"encoding":{"x":{"datum":13.971,"type":"quantitative","axis":null},"x2":{"datum":24.007},"y":{"datum":265.61,"type":"quantitative","axis":null}}},
{"data":{"values":[{}]},"mark":{"type":"text","text":"ME_subt","fontSize":19,"fontWeight":"bold","align":"center","baseline":"alphabetic","color":"black"},"encoding":{"x":{"datum":18.9,"type":"quantitative","axis":null},"y":{"datum":267.33,"type":"quantitative","axis":null}}},
{"data":{"values":[{}]},"mark":{"type":"text","text":["Entries","Mean","RMS"],"lineHeight":22.7,"fontSize":19,"fontWeight":"bold","align":"left","baseline":"alphabetic","color":"black"},"encoding":{"x":{"datum":14.522,"type":"quantitative","axis":null},"y":{"datum":254.11,"type":"quantitative","axis":null}}},
{"data":{"values":[{}]},"mark":{"type":"text","text":["-1127509","-1.679","7.345"],"lineHeight":22.7,"fontSize":19,"fontWeight":"bold","align":"right","baseline":"alphabetic","color":"black"},"encoding":{"x":{"datum":23.419,"type":"quantitative","axis":null},"y":{"datum":254.11,"type":"quantitative","axis":null}}},
{"data":{"values":[{}]},"mark":{"type":"text","text":"Peak yield (Y)","fontSize":53,"align":"left","baseline":"alphabetic","color":"black"},"encoding":{"x":{"datum":7.02,"type":"quantitative","axis":null},"y":{"datum":103.2,"type":"quantitative","axis":null}}},
{"data":{"values":[{}]},"mark":{"type":"rule","color":"black","strokeWidth":4},"encoding":{"x":{"datum":6.507,"type":"quantitative","axis":null},"x2":{"datum":-0.184},"y":{"datum":103.9,"type":"quantitative","axis":null},"y2":{"datum":67.16}}},
{"data":{"values":[{}]},"mark":{"type":"point","shape":"M0,0L-0.66,2L0.66,2Z","size":1681,"angle":253,"filled":true,"color":"black","opacity":1,"strokeWidth":0},"encoding":{"x":{"datum":-1.386,"type":"quantitative","axis":null},"y":{"datum":60.5,"type":"quantitative","axis":null}}}
]
}
]
}
